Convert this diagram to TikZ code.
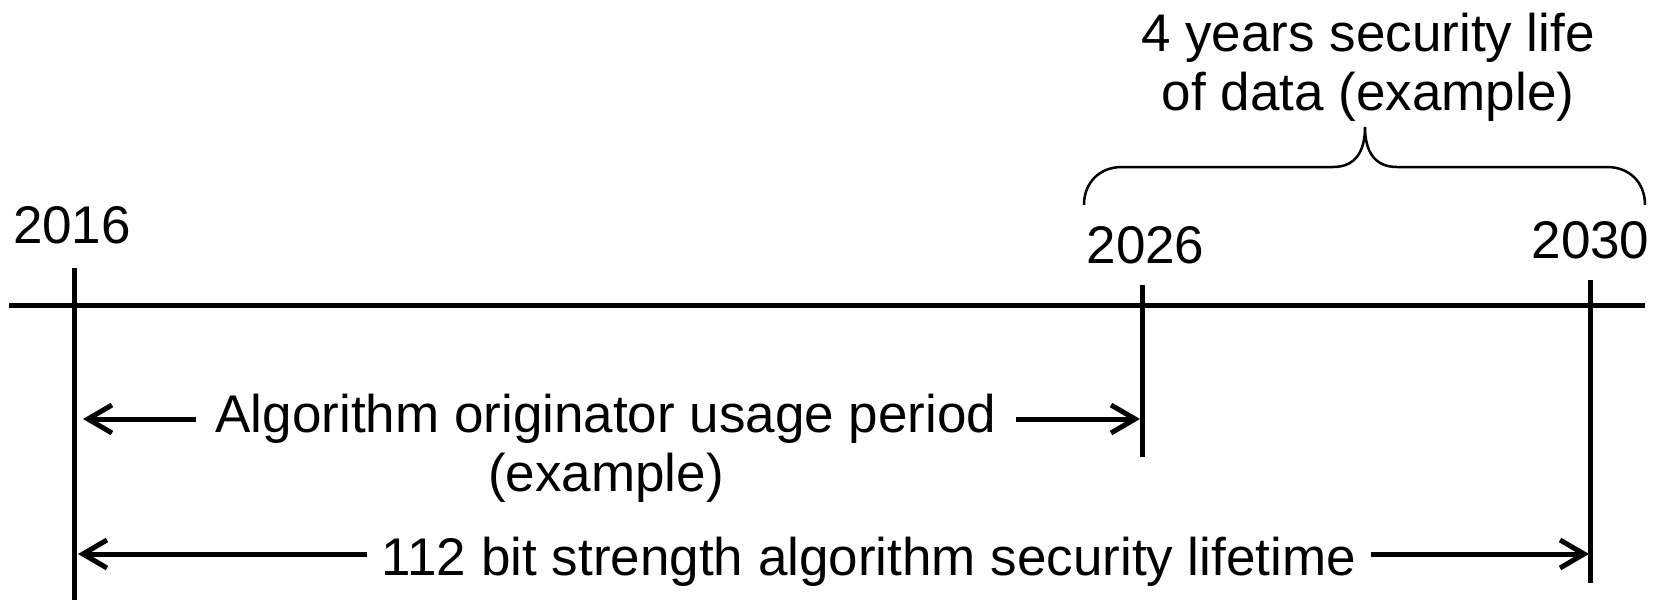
\documentclass[tikz,border=0pt]{standalone}
\usepackage{fontspec}
\setmainfont{Liberation Sans}
\usetikzlibrary{arrows.meta}
\begin{document}
\begin{tikzpicture}[x=1pt,y=-1pt,
  lbl/.style={font=\fontsize{53}{58}\selectfont, inner sep=0pt, outer sep=0pt, anchor=base},
  axisline/.style={line width=5pt},
  tickline/.style={line width=5pt},
  headarrow/.style={line width=5pt, -{Straight Barb[length=24pt,width=28pt]}},
  bracestroke/.style={line width=2.5pt}
]
\useasboundingbox (0,0) rectangle (1663,600);

% time axis and year markers
\coordinate (axL) at (9,305);
\coordinate (axR) at (1645,305);
\coordinate (m16a) at (74,268);
\coordinate (m16b) at (74,600);
\coordinate (m26a) at (1142,285);
\coordinate (m26b) at (1142,457);
\coordinate (m30a) at (1590,280);
\coordinate (m30b) at (1590,583);

\draw[axisline] (axL) -- (axR);
\draw[tickline] (m16a) -- (m16b);
\draw[tickline] (m26a) -- (m26b);
\draw[tickline] (m30a) -- (m30b);

% year labels
\node[lbl] (y16) at (72,243) {2016};
\node[lbl] (y26) at (1145.5,263) {2026};
\node[lbl] (y30) at (1590.5,258) {2030};

% brace over the data security life
\draw[bracestroke] (1084,205) .. controls (1084,182) and (1100,167) .. (1122,167)
  -- (1333,167) .. controls (1355,167) and (1365,152) .. (1365,127)
  .. controls (1365,152) and (1375,167) .. (1397,167)
  -- (1607,167) .. controls (1629,167) and (1645,182) .. (1645,205);
\node[lbl] (life1) at (1368,51) {4 years security life};
\node[lbl] (life2) at (1368,110) {of data (example)};

% usage period span
\node[lbl] (use1) at (606,432) {Algorithm originator usage period};
\node[lbl] (use2) at (606,491) {(example)};
\coordinate (uL) at (83,419);
\coordinate (uR) at (1140,419);
\draw[headarrow, shorten <=20pt] (use1.west |- uL) -- (uL);
\draw[headarrow, shorten <=20pt] (use1.east |- uR) -- (uR);

% security lifetime span
\node[lbl] (sec) at (869,575) {112 bit strength algorithm security lifetime};
\coordinate (sL) at (78,554);
\coordinate (sR) at (1589,554);
\draw[headarrow, shorten <=15pt] (sec.west |- sL) -- (sL);
\draw[headarrow, shorten <=15pt] (sec.east |- sR) -- (sR);
\end{tikzpicture}
\end{document}
